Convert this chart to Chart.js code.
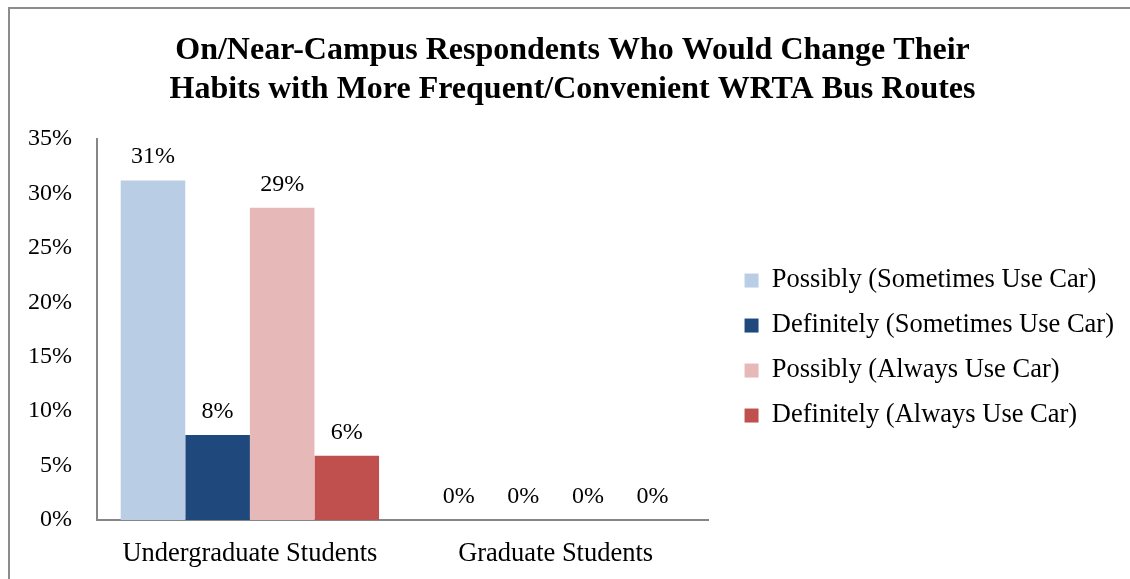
<!DOCTYPE html>
<html>
<head>
<meta charset="utf-8">
<script src="https://cdn.jsdelivr.net/npm/chart.js@4.4.0/dist/chart.umd.min.js"></script>
<style>
    html, body { margin: 0; padding: 0; background: #fff; }
    #wrap { position: relative; width: 1130px; height: 579px; overflow: hidden; }
    #frame { position: absolute; left: 8px; top: 7px; width: 1200px; height: 700px; border: 2px solid #8c8c8c; box-sizing: border-box; pointer-events: none; }
    canvas { position: absolute; left: 0; top: 0; }
</style>
</head>
<body>
<div id="wrap">
    <canvas id="chart-area" width="1130" height="579"></canvas>
    <div id="frame"></div>
</div>
<script>
    'use strict';

    // chart data
    var categories = ['Undergraduate Students', 'Graduate Students'];
    var seriesNames = [
        'Possibly (Sometimes Use Car)',
        'Definitely (Sometimes Use Car)',
        'Possibly (Always Use Car)',
        'Definitely (Always Use Car)'
    ];
    var possiblySometimes = [31.2, 0];
    var definitelySometimes = [7.8, 0];
    var possiblyAlways = [28.7, 0];
    var definitelyAlways = [5.9, 0];
    var yMax = 35;
    var yStep = 5;

    var seriesColors = ['#B9CDE5', '#1F497D', '#E6B9B8', '#C0504D'];
    var axisColor = '#868686';
    var fontFamily = '"Liberation Serif", "Times New Roman", serif';

    // values above each bar
    var barLabels = {
        id: 'barLabels',
        afterDatasetsDraw: function (chart) {
            var ctx = chart.ctx;
            ctx.save();
            ctx.font = '24px ' + fontFamily;
            ctx.fillStyle = '#000';
            ctx.textAlign = 'center';
            ctx.textBaseline = 'alphabetic';
            chart.data.datasets.forEach(function (ds, i) {
                chart.getDatasetMeta(i).data.forEach(function (bar, j) {
                    ctx.fillText(Math.round(ds.data[j]) + '%', bar.x, bar.y - 17);
                });
            });
            ctx.restore();
        }
    };

    var allSeries = [possiblySometimes, definitelySometimes, possiblyAlways, definitelyAlways];
    var datasets = allSeries.map(function (vals, i) {
        return {
            label: seriesNames[i],
            data: vals,
            backgroundColor: seriesColors[i],
            borderWidth: 0,
            categoryPercentage: 0.845,
            barPercentage: 1.0
        };
    });

    var ctx = document.getElementById('chart-area').getContext('2d');
    window.myBar = new Chart(ctx, {
        type: 'bar',
        data: { labels: categories, datasets: datasets },
        plugins: [barLabels],
        options: {
            responsive: false,
            animation: false,
            layout: { padding: { left: 21, right: 6, top: 0, bottom: 9 } },
            plugins: {
                tooltip: { enabled: false },
                title: {
                    display: true,
                    text: ['On/Near-Campus Respondents Who Would Change Their',
                        'Habits with More Frequent/Convenient WRTA Bus Routes'],
                    color: '#000',
                    font: { family: fontFamily, size: 32, weight: 'bold', lineHeight: 1.22 },
                    padding: { top: 31, bottom: 30 }
                },
                legend: {
                    position: 'right',
                    fullSize: false,
                    maxWidth: 450,
                    title: { display: true, text: ' ', font: { size: 10, lineHeight: 1 }, padding: { top: 27, bottom: 0 } },
                    labels: {
                        color: '#000',
                        font: { family: fontFamily, size: 26.5 },
                        boxWidth: 14,
                        boxHeight: 14,
                        padding: 18.5
                    }
                }
            },
            scales: {
                x: {
                    grid: { display: false, drawTicks: false },
                    border: { display: true, color: axisColor, width: 2 },
                    ticks: { color: '#000', font: { family: fontFamily, size: 26.5 }, padding: 18 },
                    afterFit: function (scale) { scale.height = 50; }
                },
                y: {
                    min: 0,
                    max: yMax,
                    grid: { display: false, drawTicks: false },
                    border: { display: true, color: axisColor, width: 2 },
                    ticks: {
                        stepSize: yStep,
                        color: '#000',
                        font: { family: fontFamily, size: 24 },
                        padding: 25,
                        callback: function (v) { return v + '%'; }
                    },
                    afterFit: function (scale) { scale.width = 76; }
                },
                gap: {
                    position: 'right',
                    grid: { display: false, drawTicks: false },
                    border: { display: false },
                    ticks: { display: false },
                    afterFit: function (scale) { scale.width = 17.5; }
                }
            }
        }
    });
</script>
</body>
</html>
